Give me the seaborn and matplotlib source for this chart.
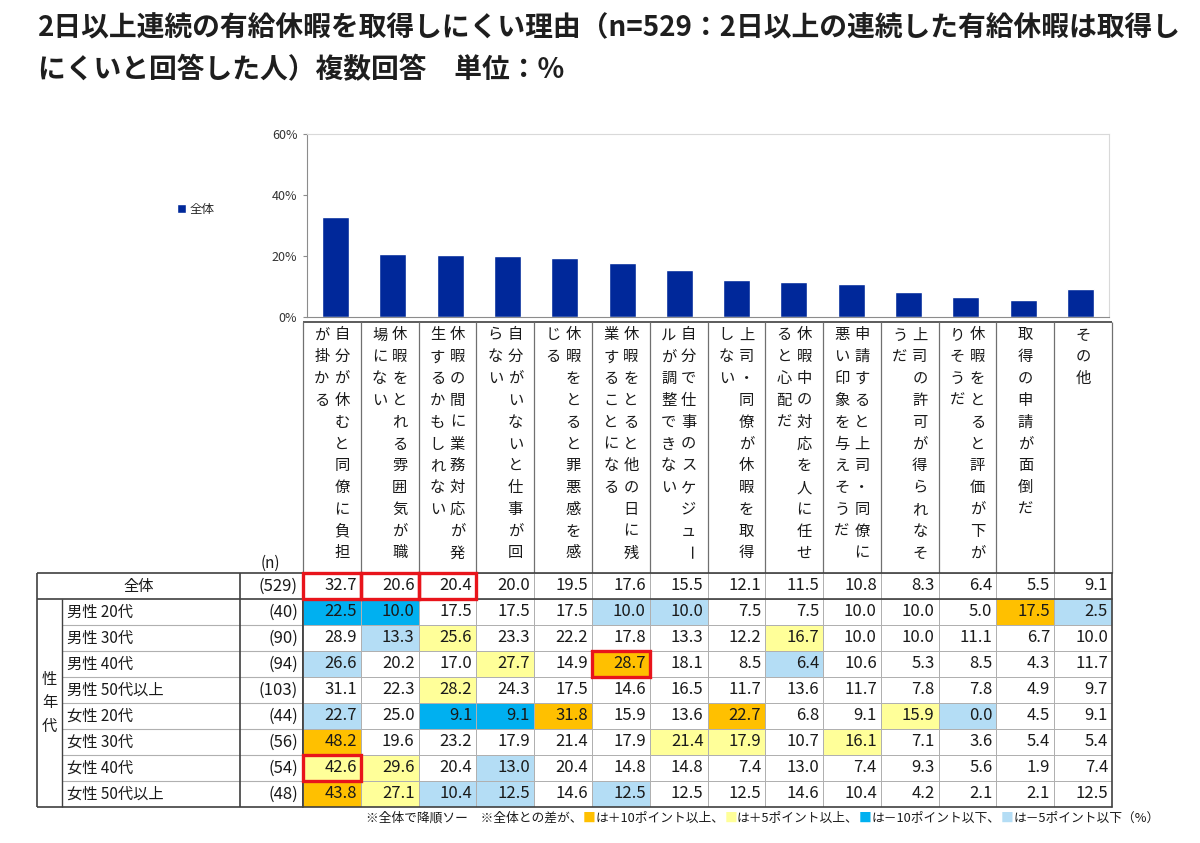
"""Reasons it's hard to take 2+ consecutive days of paid leave: overall bar chart + breakdown table by sex/age."""

import numpy as np
import pandas as pd
import seaborn as sns
import matplotlib.pyplot as plt
from matplotlib.colors import ListedColormap
from matplotlib.patches import Rectangle

sns.set_theme(style="white")
plt.rcParams['font.family'] = ['Noto Sans CJK JP', 'DejaVu Sans']

title_lines = ["2日以上連続の有給休暇を取得しにくい理由（n=529：2日以上の連続した有給休暇は取得し",
               "にくいと回答した人）複数回答　単位：%"]

reasons = ["自分が休むと同僚に負担が掛かる", "休暇をとれる雰囲気が職場にない",
           "休暇の間に業務対応が発生するかもしれない", "自分がいないと仕事が回らない",
           "休暇をとると罪悪感を感じる", "休暇をとると他の日に残業することになる",
           "自分で仕事のスケジュールが調整できない", "上司・同僚が休暇を取得しない",
           "休暇中の対応を人に任せると心配だ", "申請すると上司・同僚に悪い印象を与えそうだ",
           "上司の許可が得られなそうだ", "休暇をとると評価が下がりそうだ",
           "取得の申請が面倒だ", "その他"]

groups = ["全体", "男性 20代", "男性 30代", "男性 40代", "男性 50代以上",
          "女性 20代", "女性 30代", "女性 40代", "女性 50代以上"]
group_n = [529, 40, 90, 94, 103, 44, 56, 54, 48]

values = [
    [32.7, 20.6, 20.4, 20.0, 19.5, 17.6, 15.5, 12.1, 11.5, 10.8, 8.3, 6.4, 5.5, 9.1],
    [22.5, 10.0, 17.5, 17.5, 17.5, 10.0, 10.0, 7.5, 7.5, 10.0, 10.0, 5.0, 17.5, 2.5],
    [28.9, 13.3, 25.6, 23.3, 22.2, 17.8, 13.3, 12.2, 16.7, 10.0, 10.0, 11.1, 6.7, 10.0],
    [26.6, 20.2, 17.0, 27.7, 14.9, 28.7, 18.1, 8.5, 6.4, 10.6, 5.3, 8.5, 4.3, 11.7],
    [31.1, 22.3, 28.2, 24.3, 17.5, 14.6, 16.5, 11.7, 13.6, 11.7, 7.8, 7.8, 4.9, 9.7],
    [22.7, 25.0, 9.1, 9.1, 31.8, 15.9, 13.6, 22.7, 6.8, 9.1, 15.9, 0.0, 4.5, 9.1],
    [48.2, 19.6, 23.2, 17.9, 21.4, 17.9, 21.4, 17.9, 10.7, 16.1, 7.1, 3.6, 5.4, 5.4],
    [42.6, 29.6, 20.4, 13.0, 20.4, 14.8, 14.8, 7.4, 13.0, 7.4, 9.3, 5.6, 1.9, 7.4],
    [43.8, 27.1, 10.4, 12.5, 14.6, 12.5, 12.5, 12.5, 14.6, 10.4, 4.2, 2.1, 2.1, 12.5],
]

# cells boxed in red in the original (row, column)
highlights = [(0, 0), (0, 1), (0, 2), (3, 5), (7, 0)]

W, H = 1200, 843
BLUE = '#00289a'
TXT = '#1a1a1a'
DARK = '#404040'
GRAY = '#b0b0b0'
# none, +10, +5, -10, -5
cell_colors = ['white', '#ffc000', '#ffff99', '#00b0f0', '#b4ddf5']


def px(x0, y0, x1, y1):
    # pixel box (top-left origin) -> figure fraction rect
    return [x0 / W, 1 - y1 / H, (x1 - x0) / W, (y1 - y0) / H]


fig = plt.figure(figsize=(W / 100, H / 100), dpi=100)

# overlay in pixel coordinates for table frame and labels
ov = fig.add_axes([0, 0, 1, 1])
ov.set_xlim(0, W)
ov.set_ylim(H, 0)
ov.axis('off')
ov.set_zorder(0)

# title
for i, line in enumerate(title_lines):
    fig.text(38 / W, 1 - (28 + i * 42) / H, line, fontsize=20, fontweight='bold',
             color='#1e1e1e', va='center', ha='left')

# ---- bar chart of the overall row ----
axb = fig.add_axes(px(307, 134, 1109, 317))
axb.set_zorder(1)
overall = pd.DataFrame({'reason': reasons, 'pct': values[0]})
sns.barplot(data=overall, x='reason', y='pct', color=BLUE, saturation=1, width=0.47,
            ax=axb, label='全体')
axb.set_xlim(-0.5, len(reasons) - 0.5)
axb.set_ylim(0, 60)
axb.set_yticks([0, 20, 40, 60])
axb.set_yticklabels([f'{v}%' for v in [0, 20, 40, 60]])
axb.set_xticks([])
axb.set_xlabel('')
axb.set_ylabel('')
for side in ['left', 'bottom']:
    axb.spines[side].set_color('#8c8c8c')
for side in ['top', 'right']:
    axb.spines[side].set_color('#d9d9d9')
for sp in axb.spines.values():
    sp.set_linewidth(0.8)
axb.tick_params(axis='y', left=True, length=3, width=0.8, color='#8c8c8c',
                labelsize=9, labelcolor='#333333', pad=4)
axb.legend(loc='center left', bbox_to_anchor=(177 / W, 1 - 209 / H), bbox_transform=fig.transFigure,
           frameon=False, handlelength=0.7, handleheight=0.7, handletextpad=0.3,
           fontsize=9, borderpad=0, borderaxespad=0)

# ---- table ----
X0, XG, XL, XN, XR = 37, 62, 240, 303, 1112
YH, YT, RH = 322, 573, 26
YB = YT + RH * len(groups)
CW = (XR - XN) / len(reasons)

vals = pd.DataFrame(values, index=groups, columns=reasons)
diff = (vals - vals.iloc[0]).round(1).values
codes = np.select([diff >= 10, diff >= 5, diff < -10, diff <= -5], [1, 2, 3, 4], 0)

axh = fig.add_axes(px(XN, YT, XR, YB))
axh.set_zorder(1)
sns.heatmap(codes, annot=vals.values, fmt='.1f', cmap=ListedColormap(cell_colors),
            vmin=-0.5, vmax=4.5, cbar=False, linewidths=0.5, linecolor=GRAY,
            xticklabels=False, yticklabels=False,
            annot_kws=dict(fontsize=12, color=TXT), ax=axh)
for t in axh.texts:
    x, y = t.get_position()
    t.set_position((x + 0.43, y))
    t.set_ha('right')
# dark frame lines inside the value block
for yy in [0, 1, len(groups)]:
    axh.axhline(yy, color=DARK, lw=1.2, clip_on=False, zorder=4)
for xx in [0, len(reasons)]:
    axh.axvline(xx, color=DARK, lw=1.2, clip_on=False, zorder=4)
for r, c in highlights:
    axh.add_patch(Rectangle((c, r), 1, 1, fill=False, ec='#e8141b', lw=2.4,
                            clip_on=False, zorder=6))

# header block: column lines and vertical labels
ov.hlines(YH, XN, XR, color=DARK, lw=1.2)
for i in range(len(reasons) + 1):
    ov.vlines(XN + i * CW, YH, YT, color='#707070', lw=0.9)
for i, lab in enumerate(reasons):
    cx = XN + (i + 0.5) * CW
    chunks = [lab[k:k + 11] for k in range(0, len(lab), 11)]
    offs = [0] if len(chunks) == 1 else [10, -10]
    for chunk, dx in zip(chunks, offs):
        for k, ch in enumerate(chunk):
            ov.text(cx + dx, 335 + k * 21.8, ch, fontsize=11, color=TXT, ha='center', va='center',
                    rotation=-90 if ch == 'ー' else 0)

ov.text(270, 563, '(n)', fontsize=11, color=TXT, ha='center', va='center')

# left label columns
ov.hlines([YT, YT + RH, YB], X0, XN, color=DARK, lw=1.2)
ov.hlines([YT + RH * k for k in range(2, len(groups))], XG, XN, color=GRAY, lw=0.8)
ov.vlines([X0, XL, XN], YT, YB, color=DARK, lw=1.2)
ov.vlines(XG, YT + RH, YB, color=DARK, lw=1.0)
for k, (g, n) in enumerate(zip(groups, group_n)):
    yc = YT + RH * (k + 0.5)
    if k == 0:
        ov.text((X0 + XL) / 2, yc, g, fontsize=11, color=TXT, ha='center', va='center')
    else:
        ov.text(XG + 5, yc, g, fontsize=11, color=TXT, ha='left', va='center')
    ov.text(XN - 5, yc, f'({n})', fontsize=12, color=TXT, ha='right', va='center')
for k, ch in enumerate('性年代'):
    ov.text((X0 + XG) / 2, (YT + RH + YB) / 2 + (k - 1) * 23.5, ch, fontsize=11,
            color=TXT, ha='center', va='center')

# footnote with coloured squares
pieces = [("※全体で降順ソー　※全体との差が、", TXT), ("■", cell_colors[1]), ("は＋10ポイント以上、", TXT),
          ("■", cell_colors[2]), ("は＋5ポイント以上、", TXT), ("■", cell_colors[3]),
          ("は－10ポイント以下、", TXT), ("■", cell_colors[4]), ("は－5ポイント以下（%）", TXT)]
prev = ov.text(366, 818, pieces[0][0], fontsize=9.2, color=pieces[0][1], ha='left', va='center')
for s, c in pieces[1:]:
    prev = ov.annotate(s, xy=(1, 0.5), xycoords=prev, fontsize=9.2, color=c,
                       ha='left', va='center')

fig.savefig('out.png', dpi=100)
